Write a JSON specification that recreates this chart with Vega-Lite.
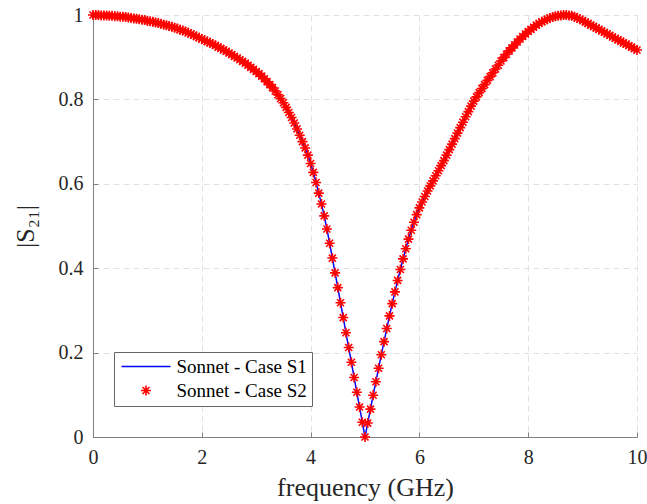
{
"$schema": "https://vega.github.io/schema/vega-lite/v6.json",
"width": 544, "height": 422,
"autosize": {"type": "none"},
"padding": {"left": 93, "top": 15, "right": 10, "bottom": 67},
"background": "white",
"config": {
  "view": {"stroke": null},
  "font": "Liberation Serif",
  "axis": {"domainColor": "#808080", "domainWidth": 1, "tickColor": "#808080", "tickSize": -5, "tickWidth": 1,
    "labelFont": "Liberation Serif", "labelFontSize": 20, "labelColor": "#262626", "labelPadding": 15, "labelFlush": false,
    "titleFont": "Liberation Serif", "titleFontSize": 26, "titleFontWeight": "normal", "titleColor": "#262626",
    "gridColor": "#e2e2e2", "gridDash": [6, 4], "gridWidth": 1},
  "legend": {"labelFont": "Liberation Serif", "labelFontSize": 19, "labelColor": "#000000", "symbolSize": 100,
    "symbolStrokeWidth": 1.6, "padding": 5, "rowPadding": 4, "strokeColor": "#666666", "fillColor": "white",
    "symbolOffset": 17.5, "labelOffset": 21, "cornerRadius": 0}
},
"data": {"values": [
{"f":0,"S1":1,"S2":1},{"f":0.05,"S1":1,"S2":1},{"f":0.1,"S1":1,"S2":1},{"f":0.15,"S1":0.999,"S2":0.999},{"f":0.2,"S1":0.999,"S2":0.999},
{"f":0.25,"S1":0.999,"S2":0.999},{"f":0.3,"S1":0.998,"S2":0.998},{"f":0.35,"S1":0.998,"S2":0.998},{"f":0.4,"S1":0.997,"S2":0.997},{"f":0.45,"S1":0.997,"S2":0.997},
{"f":0.5,"S1":0.996,"S2":0.996},{"f":0.55,"S1":0.996,"S2":0.996},{"f":0.6,"S1":0.995,"S2":0.995},{"f":0.65,"S1":0.994,"S2":0.994},{"f":0.7,"S1":0.993,"S2":0.993},
{"f":0.75,"S1":0.992,"S2":0.992},{"f":0.8,"S1":0.991,"S2":0.991},{"f":0.85,"S1":0.99,"S2":0.99},{"f":0.9,"S1":0.989,"S2":0.989},{"f":0.95,"S1":0.988,"S2":0.988},
{"f":1,"S1":0.986,"S2":0.986},{"f":1.05,"S1":0.985,"S2":0.985},{"f":1.1,"S1":0.984,"S2":0.984},{"f":1.15,"S1":0.982,"S2":0.982},{"f":1.2,"S1":0.981,"S2":0.981},
{"f":1.25,"S1":0.979,"S2":0.979},{"f":1.3,"S1":0.977,"S2":0.977},{"f":1.35,"S1":0.976,"S2":0.976},{"f":1.4,"S1":0.974,"S2":0.974},{"f":1.45,"S1":0.972,"S2":0.972},
{"f":1.5,"S1":0.97,"S2":0.97},{"f":1.55,"S1":0.968,"S2":0.968},{"f":1.6,"S1":0.965,"S2":0.965},{"f":1.65,"S1":0.963,"S2":0.963},{"f":1.7,"S1":0.961,"S2":0.961},
{"f":1.75,"S1":0.958,"S2":0.958},{"f":1.8,"S1":0.955,"S2":0.955},{"f":1.85,"S1":0.952,"S2":0.952},{"f":1.9,"S1":0.949,"S2":0.949},{"f":1.95,"S1":0.946,"S2":0.946},
{"f":2,"S1":0.943,"S2":0.943},{"f":2.05,"S1":0.94,"S2":0.94},{"f":2.1,"S1":0.937,"S2":0.937},{"f":2.15,"S1":0.934,"S2":0.934},{"f":2.2,"S1":0.931,"S2":0.931},
{"f":2.25,"S1":0.928,"S2":0.928},{"f":2.3,"S1":0.924,"S2":0.924},{"f":2.35,"S1":0.921,"S2":0.921},{"f":2.4,"S1":0.917,"S2":0.917},{"f":2.45,"S1":0.914,"S2":0.914},
{"f":2.5,"S1":0.91,"S2":0.91},{"f":2.55,"S1":0.906,"S2":0.906},{"f":2.6,"S1":0.902,"S2":0.902},{"f":2.65,"S1":0.898,"S2":0.898},{"f":2.7,"S1":0.894,"S2":0.894},
{"f":2.75,"S1":0.89,"S2":0.89},{"f":2.8,"S1":0.886,"S2":0.886},{"f":2.85,"S1":0.881,"S2":0.881},{"f":2.9,"S1":0.876,"S2":0.876},{"f":2.95,"S1":0.871,"S2":0.871},
{"f":3,"S1":0.866,"S2":0.866},{"f":3.05,"S1":0.861,"S2":0.861},{"f":3.1,"S1":0.855,"S2":0.855},{"f":3.15,"S1":0.849,"S2":0.849},{"f":3.2,"S1":0.842,"S2":0.842},
{"f":3.25,"S1":0.835,"S2":0.835},{"f":3.3,"S1":0.828,"S2":0.828},{"f":3.35,"S1":0.82,"S2":0.82},{"f":3.4,"S1":0.811,"S2":0.811},{"f":3.45,"S1":0.802,"S2":0.802},
{"f":3.5,"S1":0.792,"S2":0.792},{"f":3.55,"S1":0.781,"S2":0.781},{"f":3.6,"S1":0.769,"S2":0.769},{"f":3.65,"S1":0.757,"S2":0.757},{"f":3.7,"S1":0.744,"S2":0.744},
{"f":3.75,"S1":0.73,"S2":0.73},{"f":3.8,"S1":0.715,"S2":0.715},{"f":3.85,"S1":0.7,"S2":0.7},{"f":3.9,"S1":0.685,"S2":0.685},{"f":3.95,"S1":0.668,"S2":0.668},
{"f":4,"S1":0.648,"S2":0.648},{"f":4.05,"S1":0.627,"S2":0.627},{"f":4.1,"S1":0.603,"S2":0.603},{"f":4.15,"S1":0.578,"S2":0.578},{"f":4.2,"S1":0.552,"S2":0.552},
{"f":4.25,"S1":0.524,"S2":0.524},{"f":4.3,"S1":0.493,"S2":0.493},{"f":4.35,"S1":0.459,"S2":0.459},{"f":4.4,"S1":0.424,"S2":0.424},{"f":4.45,"S1":0.389,"S2":0.389},
{"f":4.5,"S1":0.354,"S2":0.354},{"f":4.55,"S1":0.318,"S2":0.318},{"f":4.6,"S1":0.283,"S2":0.283},{"f":4.65,"S1":0.247,"S2":0.247},{"f":4.7,"S1":0.212,"S2":0.212},
{"f":4.75,"S1":0.177,"S2":0.177},{"f":4.8,"S1":0.141,"S2":0.141},{"f":4.85,"S1":0.106,"S2":0.106},{"f":4.9,"S1":0.071,"S2":0.071},{"f":4.95,"S1":0.035,"S2":0.035},
{"f":5,"S1":0,"S2":0},{"f":5.05,"S1":0.033,"S2":0.033},{"f":5.1,"S1":0.066,"S2":0.066},{"f":5.15,"S1":0.099,"S2":0.099},{"f":5.2,"S1":0.131,"S2":0.131},
{"f":5.25,"S1":0.163,"S2":0.163},{"f":5.3,"S1":0.195,"S2":0.195},{"f":5.35,"S1":0.226,"S2":0.226},{"f":5.4,"S1":0.257,"S2":0.257},{"f":5.45,"S1":0.287,"S2":0.287},
{"f":5.5,"S1":0.316,"S2":0.316},{"f":5.55,"S1":0.344,"S2":0.344},{"f":5.6,"S1":0.371,"S2":0.371},{"f":5.65,"S1":0.397,"S2":0.397},{"f":5.7,"S1":0.422,"S2":0.422},
{"f":5.75,"S1":0.446,"S2":0.446},{"f":5.8,"S1":0.469,"S2":0.469},{"f":5.85,"S1":0.49,"S2":0.49},{"f":5.9,"S1":0.509,"S2":0.509},{"f":5.95,"S1":0.527,"S2":0.527},
{"f":6,"S1":0.543,"S2":0.543},{"f":6.05,"S1":0.557,"S2":0.557},{"f":6.1,"S1":0.57,"S2":0.57},{"f":6.15,"S1":0.583,"S2":0.583},{"f":6.2,"S1":0.595,"S2":0.595},
{"f":6.25,"S1":0.607,"S2":0.607},{"f":6.3,"S1":0.619,"S2":0.619},{"f":6.35,"S1":0.631,"S2":0.631},{"f":6.4,"S1":0.643,"S2":0.643},{"f":6.45,"S1":0.655,"S2":0.655},
{"f":6.5,"S1":0.668,"S2":0.668},{"f":6.55,"S1":0.681,"S2":0.681},{"f":6.6,"S1":0.694,"S2":0.694},{"f":6.65,"S1":0.707,"S2":0.707},{"f":6.7,"S1":0.72,"S2":0.72},
{"f":6.75,"S1":0.733,"S2":0.733},{"f":6.8,"S1":0.746,"S2":0.746},{"f":6.85,"S1":0.759,"S2":0.759},{"f":6.9,"S1":0.771,"S2":0.771},{"f":6.95,"S1":0.784,"S2":0.784},
{"f":7,"S1":0.796,"S2":0.796},{"f":7.05,"S1":0.806,"S2":0.806},{"f":7.1,"S1":0.816,"S2":0.816},{"f":7.15,"S1":0.826,"S2":0.826},{"f":7.2,"S1":0.835,"S2":0.835},
{"f":7.25,"S1":0.845,"S2":0.845},{"f":7.3,"S1":0.854,"S2":0.854},{"f":7.35,"S1":0.863,"S2":0.863},{"f":7.4,"S1":0.872,"S2":0.872},{"f":7.45,"S1":0.881,"S2":0.881},
{"f":7.5,"S1":0.891,"S2":0.891},{"f":7.55,"S1":0.899,"S2":0.899},{"f":7.6,"S1":0.907,"S2":0.907},{"f":7.65,"S1":0.915,"S2":0.915},{"f":7.7,"S1":0.922,"S2":0.922},
{"f":7.75,"S1":0.929,"S2":0.929},{"f":7.8,"S1":0.936,"S2":0.936},{"f":7.85,"S1":0.943,"S2":0.943},{"f":7.9,"S1":0.949,"S2":0.949},{"f":7.95,"S1":0.955,"S2":0.955},
{"f":8,"S1":0.961,"S2":0.961},{"f":8.05,"S1":0.966,"S2":0.966},{"f":8.1,"S1":0.971,"S2":0.971},{"f":8.15,"S1":0.976,"S2":0.976},{"f":8.2,"S1":0.98,"S2":0.98},
{"f":8.25,"S1":0.984,"S2":0.984},{"f":8.3,"S1":0.987,"S2":0.987},{"f":8.35,"S1":0.99,"S2":0.99},{"f":8.4,"S1":0.993,"S2":0.993},{"f":8.45,"S1":0.995,"S2":0.995},
{"f":8.5,"S1":0.997,"S2":0.997},{"f":8.55,"S1":0.998,"S2":0.998},{"f":8.6,"S1":0.999,"S2":0.999},{"f":8.65,"S1":1,"S2":1},{"f":8.7,"S1":1,"S2":1},
{"f":8.75,"S1":0.999,"S2":0.999},{"f":8.8,"S1":0.998,"S2":0.998},{"f":8.85,"S1":0.996,"S2":0.996},{"f":8.9,"S1":0.993,"S2":0.993},{"f":8.95,"S1":0.99,"S2":0.99},
{"f":9,"S1":0.987,"S2":0.987},{"f":9.05,"S1":0.983,"S2":0.983},{"f":9.1,"S1":0.98,"S2":0.98},{"f":9.15,"S1":0.976,"S2":0.976},{"f":9.2,"S1":0.973,"S2":0.973},
{"f":9.25,"S1":0.969,"S2":0.969},{"f":9.3,"S1":0.966,"S2":0.966},{"f":9.35,"S1":0.962,"S2":0.962},{"f":9.4,"S1":0.959,"S2":0.959},{"f":9.45,"S1":0.955,"S2":0.955},
{"f":9.5,"S1":0.952,"S2":0.952},{"f":9.55,"S1":0.948,"S2":0.948},{"f":9.6,"S1":0.945,"S2":0.945},{"f":9.65,"S1":0.941,"S2":0.941},{"f":9.7,"S1":0.938,"S2":0.938},
{"f":9.75,"S1":0.934,"S2":0.934},{"f":9.8,"S1":0.931,"S2":0.931},{"f":9.85,"S1":0.927,"S2":0.927},{"f":9.9,"S1":0.924,"S2":0.924},{"f":9.95,"S1":0.92,"S2":0.92},
{"f":10,"S1":0.917,"S2":0.917}
]},
"transform": [{"fold": ["S1", "S2"], "as": ["series", "s"]}],
"encoding": {
  "x": {"field": "f", "type": "quantitative", "scale": {"domain": [0, 10], "nice": false},
    "axis": {"values": [0, 2, 4, 6, 8, 10], "title": "frequency (GHz)", "titleY": 58, "titleBaseline": "alphabetic"}},
  "y": {"field": "s", "type": "quantitative", "scale": {"domain": [0, 1], "nice": false},
    "axis": {"values": [0, 0.2, 0.4, 0.6, 0.8, 1], "format": "~g", "title": "|S₂₁|", "titleX": -60, "titleY": 211, "titleBaseline": "alphabetic", "titleAngle": -90, "titleAlign": "center"}},
  "color": {"field": "series", "type": "nominal", "scale": {"domain": ["S1", "S2"], "range": ["#0000ff", "#ff0000"]},
    "legend": {"orient": "none", "legendX": 21, "legendY": 337, "title": null, "labelExpr": "'Sonnet - Case ' + datum.label"}}
},
"layer": [
  {"transform": [{"filter": "datum.series == 'S1'"}], "mark": {"type": "line", "strokeWidth": 1.5}},
  {"transform": [{"filter": "datum.series == 'S2'"}], "mark": {"type": "point", "filled": false, "size": 100, "strokeWidth": 1.6, "opacity": 1},
    "encoding": {"shape": {"field": "series", "type": "nominal",
      "scale": {"domain": ["S1", "S2"], "range": ["M-4.9,0L4.9,0", "M-1,0L1,0M0,-1L0,1M-0.7,-0.7L0.7,0.7M-0.7,0.7L0.7,-0.7"]},
      "legend": {"orient": "none", "legendX": 21, "legendY": 337, "title": null, "labelExpr": "'Sonnet - Case ' + datum.label"}}}}
]
}
